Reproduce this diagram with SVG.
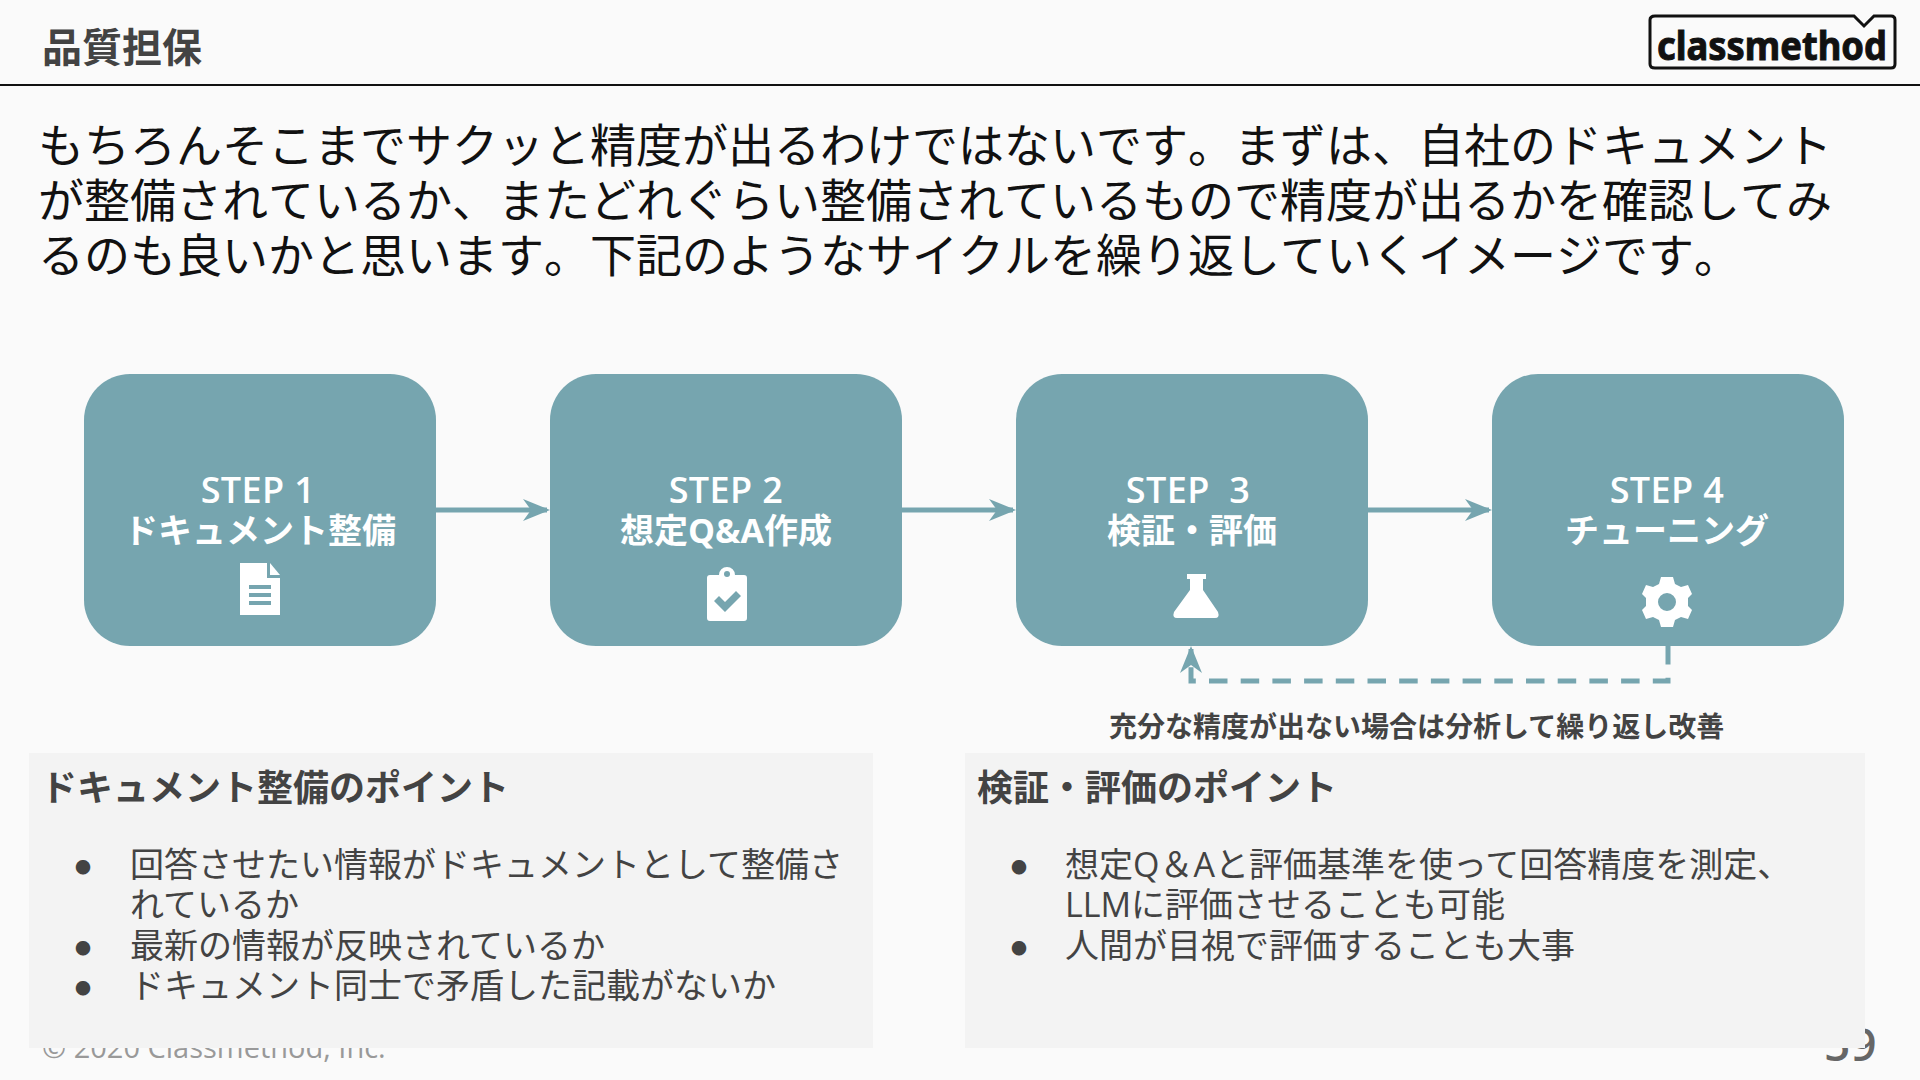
<svg xmlns="http://www.w3.org/2000/svg" width="1920" height="1080" viewBox="0 0 1920 1080">
<style>
text{font-family:"Open Sans","Noto Sans CJK JP",sans-serif;fill:#434343;white-space:pre}
.lead{font-size:46px;fill:#111;font-kerning:none}
.box{fill:#76a5af}
.step{font-size:34px;font-weight:700;fill:#fff;text-anchor:middle}
.st{font-size:36px;font-weight:600;letter-spacing:.4px}
.ic{fill:#fff}
.head{font-size:36px;font-weight:700}
.li{font-size:34px}
.bu{font-size:16px}
.cut{fill:#76a5af}
.con{fill:none;stroke:#76a5af;stroke-width:5}
.dash{stroke-dasharray:18.5 13.2}
.panel{fill:#f3f3f3}
</style>
<defs>
<marker id="ah" markerUnits="userSpaceOnUse" markerWidth="30" markerHeight="26" refX="24" refY="13" orient="auto">
<path d="M0 2L27 13L0 24L8 13Z" fill="#76a5af"/>
</marker>
</defs>
<rect width="1920" height="1080" fill="#fafafa"/>
<g id="header">
<text x="42" y="62" font-size="40" font-weight="700">品質担保</text>
<rect x="0" y="84" width="1920" height="2" fill="#111"/>
</g>
<g id="logo">
<path d="M1655 16H1854L1864 26L1874 16H1891Q1895 16 1895 20V64Q1895 68 1891 68H1655Q1650 68 1650 64V20Q1650 16 1655 16Z" fill="none" stroke="#111" stroke-width="3"/>
<text x="1657" y="60" font-size="40" font-weight="700" style="fill:#111;stroke:#111;stroke-width:1;font-family:'Noto Sans',sans-serif" textLength="230" lengthAdjust="spacingAndGlyphs">classmethod</text>
</g>
<g id="lead">
<text class="lead" x="38" y="162">もちろんそこまでサクッと精度が出るわけではないです。まずは、自社のドキュメント</text>
<text class="lead" x="38" y="217">が整備されているか、またどれぐらい整備されているもので精度が出るかを確認してみ</text>
<text class="lead" x="38" y="272">るのも良いかと思います。下記のようなサイクルを繰り返していくイメージです。</text>
</g>
<g id="footer">
<text x="42" y="1058" font-size="29" style="fill:#999">© 2020 Classmethod, Inc.</text>
<text x="1824" y="1061" font-size="46" font-weight="600" style="fill:#666">59</text>
</g>
<g id="connectors">
<path class="con" d="M436 510H547" marker-end="url(#ah)"/>
<path class="con" d="M902 510H1013" marker-end="url(#ah)"/>
<path class="con" d="M1368 510H1489" marker-end="url(#ah)"/>
<path class="con dash" d="M1668 646V681H1191V649" marker-end="url(#ah)"/>
</g>
<g id="step1">
<rect class="box" x="84" y="374" width="352" height="272" rx="46"/>
<text class="step st" x="258" y="503">STEP 1</text>
<text class="step" x="260" y="543">ドキュメント整備</text>
<path class="ic" d="M240 563H267V578H280V615H240Z"/><path class="ic" d="M270 563L280 575H270Z"/>
<path class="cut" d="M249 585H271V589H249ZM249 593H271V597H249ZM249 601H271V605H249Z"/>
</g>
<g id="step2">
<rect class="box" x="550" y="374" width="352" height="272" rx="46"/>
<text class="step st" x="726" y="503">STEP 2</text>
<text class="step" x="726" y="543">想定Q&amp;A作成</text>
<path class="ic" d="M710 575H719A8 8 0 0 1 735 575H744Q747 575 747 578V618Q747 621 744 621H710Q707 621 707 618V578Q707 575 710 575Z"/>
<circle class="cut" cx="727" cy="574" r="3"/>
<path class="cut" d="M714 601L719 596L725 602L736 591L741 596L725 612Z"/>
</g>
<g id="step3">
<rect class="box" x="1016" y="374" width="352" height="272" rx="46"/>
<text class="step st" x="1188" y="503">STEP  3</text>
<text class="step" x="1192" y="543">検証・評価</text>
<path class="ic" d="M1187 574H1206V579H1203V590L1218 612Q1220 618 1215 618H1177Q1172 618 1174 612L1190 590V579H1187Z"/>
</g>
<g id="step4">
<rect class="box" x="1492" y="374" width="352" height="272" rx="46"/>
<text class="step st" x="1667" y="503">STEP 4</text>
<text class="step" x="1667" y="543">チューニング</text>
<path class="ic" fill-rule="evenodd" d="M1661 577H1673L1675 584L1681 587L1688 585L1692 594L1688 598V606L1692 610L1688 619L1681 617L1675 620L1673 627H1661L1659 620L1653 617L1646 619L1642 610L1646 606V598L1642 594L1646 585L1653 587L1659 584ZM1667 593A9 9 0 1 0 1667 611A9 9 0 1 0 1667 593Z"/>
</g>
<g id="feedback-label">
<text x="1109" y="737" font-size="28" font-weight="700">充分な精度が出ない場合は分析して繰り返し改善</text>
</g>
<g id="panel-left">
<rect class="panel" x="29" y="753" width="844" height="295"/>
<text class="head" x="41" y="801">ドキュメント整備のポイント</text>
<text class="bu" x="75" y="873">●</text><text class="li" x="130" y="877">回答させたい情報がドキュメントとして整備さ</text>
<text class="li" x="130" y="917">れているか</text>
<text class="bu" x="75" y="954">●</text><text class="li" x="130" y="958">最新の情報が反映されているか</text>
<text class="bu" x="75" y="994">●</text><text class="li" x="130" y="998">ドキュメント同士で矛盾した記載がないか</text>
</g>
<g id="panel-right">
<rect class="panel" x="965" y="753" width="900" height="295"/>
<text class="head" x="977" y="801">検証・評価のポイント</text>
<text class="bu" x="1011" y="873">●</text><text class="li" x="1065" y="877">想定Q＆Aと評価基準を使って回答精度を測定、</text>
<text class="li" x="1065" y="917">LLMに評価させることも可能</text>
<text class="bu" x="1011" y="954">●</text><text class="li" x="1065" y="958">人間が目視で評価することも大事</text>
</g>
</svg>
